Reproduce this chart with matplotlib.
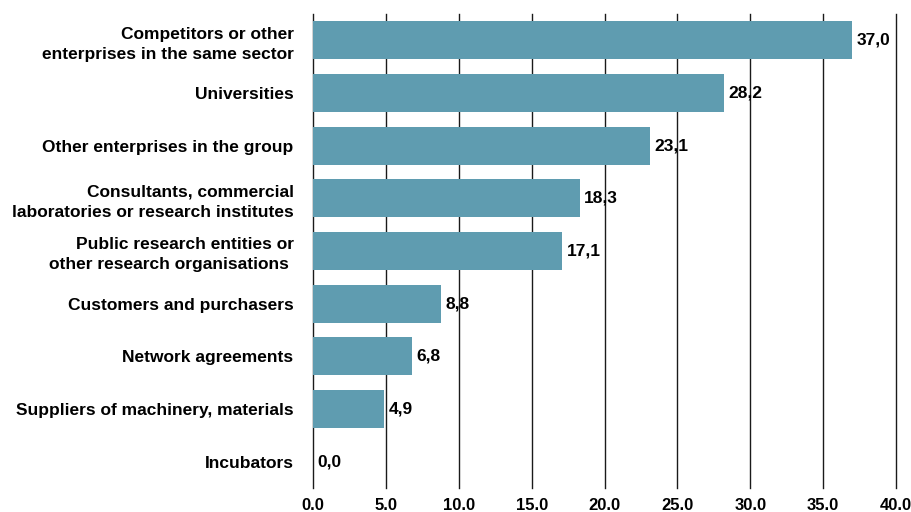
import matplotlib
matplotlib.use("Agg")
import matplotlib.pyplot as plt

categories = [
    "Competitors or other\nenterprises in the same sector",
    "Universities",
    "Other enterprises in the group",
    "Consultants, commercial\nlaboratories or research institutes",
    "Public research entities or\nother research organisations ",
    "Customers and purchasers",
    "Network agreements",
    "Suppliers of machinery, materials",
    "Incubators",
]
values = [37.0, 28.2, 23.1, 18.3, 17.1, 8.8, 6.8, 4.9, 0.0]
x_ticks = [0, 5, 10, 15, 20, 25, 30, 35, 40]

plt.rcParams["font.family"] = ["Liberation Sans", "DejaVu Sans"]
plt.rcParams["font.weight"] = "bold"

fig = plt.figure(figsize=(9.12, 5.12), dpi=100)
ax = fig.add_axes([0.3432, 0.0469, 0.6393, 0.9258])

ypos = list(range(len(categories)))
ax.barh(ypos, values, height=0.72, color="#5f9cb0", zorder=2)

for y, v in zip(ypos, values):
    ax.text(v + 0.3, y, f"{v:.1f}".replace(".", ","), va="center", ha="left",
            fontsize=12.5, fontweight="bold", color="black", zorder=3)

ax.set_xlim(0, 40)
ax.set_ylim(len(categories) - 0.5, -0.5)
ax.set_xticks(x_ticks)
ax.set_xticklabels([f"{t:.1f}" for t in x_ticks], fontsize=12, fontweight="bold")
ax.set_yticks(ypos)
ax.set_yticklabels(categories, fontsize=12.5, fontweight="bold",
                   multialignment="right", linespacing=1.4)
ax.tick_params(axis="both", length=0)
ax.tick_params(axis="y", pad=14)
ax.tick_params(axis="x", pad=7)

for t in x_ticks:
    ax.axvline(t, color="#1a1a1a", linewidth=1.0, zorder=1, clip_on=False)

for s in ax.spines.values():
    s.set_visible(False)

fig.savefig("out.png", dpi=100)
